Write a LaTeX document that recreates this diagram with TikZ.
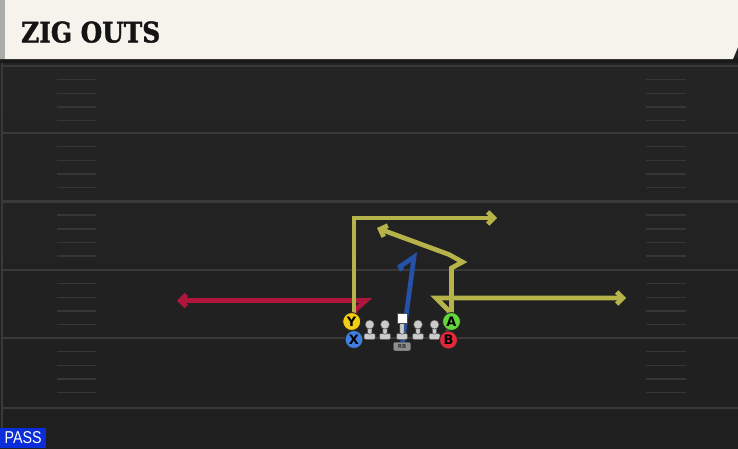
\documentclass[tikz,border=0pt]{standalone}
\usepackage{fontspec}
\usetikzlibrary{arrows.meta}
\newfontfamily\titlefont{DejaVu Serif}[FakeBold=1.6]
\newfontfamily\badgefont{Liberation Sans}
\newfontfamily\playerfont{DejaVu Sans}
\definecolor{fieldtop}{HTML}{252525}
\definecolor{fieldbot}{HTML}{1F1F1F}
\definecolor{yardline}{HTML}{393939}
\definecolor{hashcol}{HTML}{363636}
\definecolor{cream}{HTML}{F6F3EC}
\definecolor{creamedge}{HTML}{ABABAB}
\definecolor{routeyel}{HTML}{B6B34B}
\definecolor{routered}{HTML}{B0163C}
\definecolor{routeblue}{HTML}{2552A8}
\definecolor{ycol}{HTML}{F2CD13}
\definecolor{xcol}{HTML}{3F7FE0}
\definecolor{acol}{HTML}{63D63B}
\definecolor{bcol}{HTML}{E3283A}
\definecolor{lmcol}{HTML}{CBCBCB}
\definecolor{lmedge}{HTML}{4A4A4A}
\definecolor{rbcol}{HTML}{8E8E8E}
\definecolor{passblue}{HTML}{0B2DDA}
\pgfdeclarelayer{field}
\pgfdeclarelayer{routes}
\pgfsetlayers{field,routes,main}
\begin{document}
\begin{tikzpicture}[x=1pt,y=-1pt,
  route/.style={line width=4.7pt, line join=miter},
  rarrow/.style={-{Straight Barb[length=6pt,width=12pt]}},
  player/.style={circle, draw=black!85, line width=0.9pt, minimum size=18pt, inner sep=0pt,
    font=\playerfont\bfseries\fontsize{13}{13}\selectfont, text=black},
  lmhead/.style={circle, fill=lmcol, draw=lmedge, line width=0.5pt, minimum size=9pt, inner sep=0pt},
  lmbody/.style={fill=lmcol, draw=lmedge, line width=0.5pt, rounded corners=1.2pt},
  yard/.style={draw=yardline, line width=2.4pt},
  hash/.style={draw=hashcol, line width=1.8pt}]
\useasboundingbox (0,0) rectangle (738,448);
\begin{pgfonlayer}{field}
  % field
  \shade[top color=fieldtop, bottom color=fieldbot] (0,0) rectangle (738,448);
  \draw[draw=yardline, line width=2pt] (1.5,60) -- (1.5,448);
  \foreach \yy in {66,133,201.5,270,338,408} {
    \draw[yard] (2.5,\yy) -- (738,\yy);
  }
  \foreach \yy in {66,133,201.5,270,338} {
    \foreach \dd in {13.5,27.5,41,54.5} {
      \draw[hash] (57,\yy+\dd) -- (96,\yy+\dd);
      \draw[hash] (646,\yy+\dd) -- (686,\yy+\dd);
    }
  }
  % header
  \fill[black!90] (0,58) rectangle (738,63);
  \fill[cream] (0,0) -- (738,0) -- (738,47) -- (733,59) -- (0,59) -- cycle;
  \fill[creamedge] (0,0) rectangle (4.5,59);
\end{pgfonlayer}

\node[anchor=south west, inner sep=0pt] (title) at (21,43)
  {\resizebox{139pt}{21pt}{\titlefont\bfseries\color{black!92}ZIG OUTS}};
\node[fill=passblue, anchor=south west, minimum width=46pt, minimum height=20pt, inner sep=0pt] (badge) at (0,448)
  {\resizebox{37pt}{12pt}{\badgefont\color{white}PASS}};

% offensive line
\foreach \n/\x in {LT/369.7,LG/385,RG/418,RT/434.5} {
  \filldraw[lmbody] (\x-5.5,333.5) rectangle (\x+5.5,339.5);
  \filldraw[lmbody] (\x-2.2,325) rectangle (\x+2.2,334);
  \node[lmhead] (\n) at (\x,324.5) {};
}
\filldraw[lmbody] (396.5,333.5) rectangle (407.5,339.5);
\filldraw[lmbody] (399.8,322) rectangle (404.2,334);
\node[rectangle, fill=white, draw=lmedge, line width=0.4pt, minimum size=9.5pt, inner sep=0pt] (C) at (402,318.3) {};
\node[rectangle, rounded corners=2pt, fill=rbcol, draw=black!60, line width=0.4pt, minimum width=17pt, minimum height=8.5pt, inner sep=0pt,
  font=\playerfont\bfseries\fontsize{5.5}{5.5}\selectfont, text=black!80] (RB) at (402,346.5) {RB};

% skill players
\node[player, fill=xcol] (X) at (354,339.5) {X};
\node[player, fill=ycol] (Y) at (351.7,321.5) {Y};
\node[player, fill=bcol] (B) at (448.5,340) {B};
\node[player, fill=acol] (A) at (451.5,321.5) {A};

% route waypoints
\coordinate (y1) at (354,218);
\coordinate (y2) at (497,218);
\coordinate (x1) at (355,310);
\coordinate (x2) at (366,300.5);
\coordinate (x3) at (177,300.5);
\coordinate (a1) at (451.5,268);
\coordinate (a2) at (462.5,262);
\coordinate (a3) at (449,254.5);
\coordinate (a4) at (377,228);
\coordinate (b1) at (449,311);
\coordinate (b2) at (436,298);
\coordinate (b3) at (626,298);
\coordinate (r1) at (414,257);
\coordinate (r2) at (400,266.5);
\coordinate (r3) at (402,270.5);

\begin{pgfonlayer}{routes}
  \draw[route, routered, rarrow] (X) -- (x1) -- (x2) -- (x3);
  \draw[route, routeyel, rarrow] (Y.center -| y1) -- (y1) -- (y2);
  \draw[route, routeyel, rarrow] (B) -- (b1) -- (b2) -- (b3);
  \draw[route, routeyel, rarrow] (A.center -| a1) -- (a1) -- (a2) -- (a3) -- (a4);
  \draw[route, routeblue] (RB) -- (r1) -- (r2) -- (r3);
\end{pgfonlayer}
\end{tikzpicture}
\end{document}
